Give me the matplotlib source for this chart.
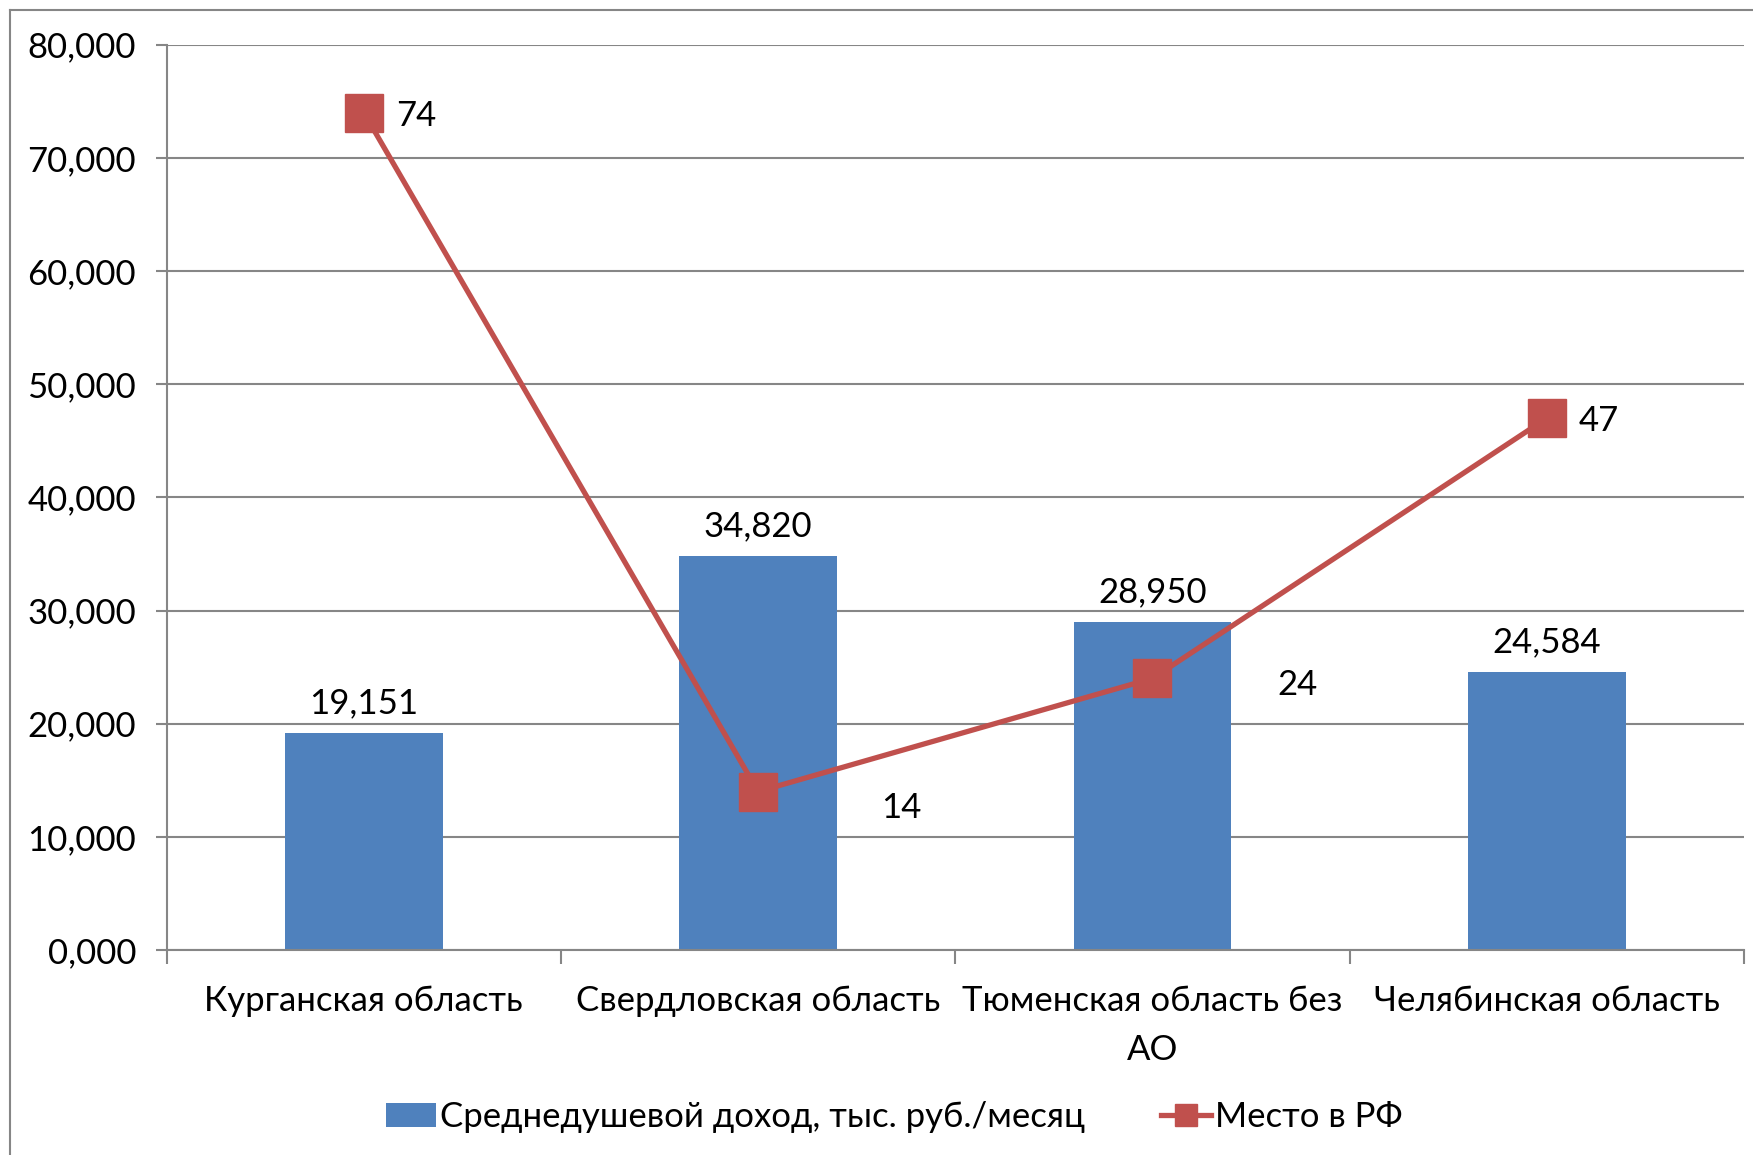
import matplotlib
matplotlib.use("Agg")
import matplotlib.pyplot as plt
from matplotlib.lines import Line2D
from matplotlib.patches import Patch
from matplotlib.ticker import FixedLocator, FuncFormatter

categories = ["Курганская область", "Свердловская область", "Тюменская область без\nАО", "Челябинская область"]
income = [19.151, 34.820, 28.950, 24.584]
rank = [74, 14, 24, 47]
y_ticks = [0, 10, 20, 30, 40, 50, 60, 70, 80]
series_names = ["Среднедушевой доход, тыс. руб./месяц", "Место в РФ"]

BAR = "#4F81BD"
LINE = "#C0504D"
GRID = "#868686"
FONT = "Lato"
FS = 25

W, H, DPI = 1753, 1155, 100
fig = plt.figure(figsize=(W / DPI, H / DPI), dpi=DPI)
fig.patch.set_facecolor("white")

L, R, T, B = 166.6, 1744, 44.7, 950
ax = fig.add_axes([L / W, 1 - B / H, (R - L) / W, (B - T) / H])

def fmt(v, pos=None):
    return f"{v:.3f}".replace(".", ",")

x = list(range(len(categories)))
ax.bar(x, income, width=0.4, color=BAR, zorder=2)
ax.plot(x, rank, color=LINE, lw=3.8, marker="s", markersize=27, zorder=3)

ax.set_xlim(-0.5, len(categories) - 0.5)
ax.set_ylim(0, 80)
ax.yaxis.set_major_locator(FixedLocator(y_ticks))
ax.yaxis.set_major_formatter(FuncFormatter(fmt))
ax.grid(axis="y", color=GRID, lw=1.5, zorder=0)
ax.set_axisbelow(True)

for s in ["top", "right"]:
    ax.spines[s].set_visible(False)
for s in ["left", "bottom"]:
    ax.spines[s].set_color(GRID)
    ax.spines[s].set_linewidth(1.5)

ax.tick_params(axis="y", length=8, width=1.5, color=GRID, pad=14, labelsize=FS)
ax.set_xticks(x)
ax.set_xticklabels(categories, fontsize=FS, fontfamily=FONT, linespacing=1.65)
ax.set_xticks([i - 0.5 for i in range(len(categories) + 1)], minor=True)
ax.tick_params(axis="x", which="major", length=0, pad=25)
ax.tick_params(axis="x", which="minor", length=10, width=1.5, color=GRID)
for lab in ax.get_yticklabels():
    lab.set_fontfamily(FONT)

for xi, v in zip(x, income):
    ax.annotate(fmt(v), (xi, v), xytext=(0, 30), textcoords="offset pixels",
                ha="center", va="center", fontsize=FS, fontfamily=FONT)

label_offsets = [(32, -3), (123, -16), (125, -7), (32, -3)]
for xi, v, (dx, dy) in zip(x, rank, label_offsets):
    ax.annotate(str(v), (xi, v), xytext=(dx, dy), textcoords="offset pixels",
                ha="left", va="center", fontsize=FS, fontfamily=FONT)

handles = [Patch(facecolor=BAR, edgecolor="none"),
           Line2D([0], [0], color=LINE, lw=3.8, marker="s", markersize=16)]
fig.legend(handles, series_names, loc="center", bbox_to_anchor=(0.51, 1 - 1117 / H),
           ncol=2, frameon=False, prop={"family": FONT, "size": FS},
           handlelength=1.45, handletextpad=0.1, columnspacing=2.2)

# outer chart frame (cropped)
fig.add_artist(Line2D([10 / W, 10 / W], [0, 1 - 10 / H], color=GRID, lw=1.5, transform=fig.transFigure))
fig.add_artist(Line2D([10 / W, 1], [1 - 10 / H, 1 - 10 / H], color=GRID, lw=1.5, transform=fig.transFigure))

fig.savefig("out.png", dpi=DPI, facecolor="white")
